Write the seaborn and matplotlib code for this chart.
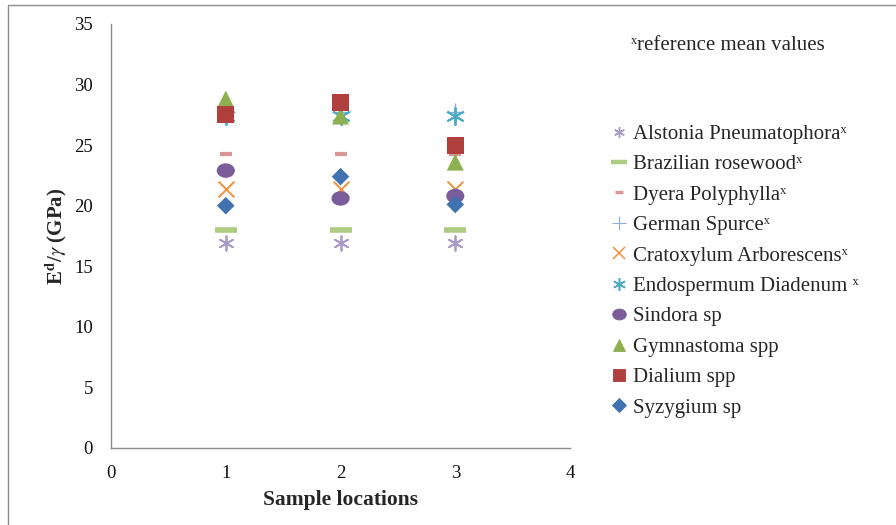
import numpy as np
import pandas as pd
import matplotlib
matplotlib.use("Agg")
import matplotlib.pyplot as plt
import seaborn as sns
from matplotlib.path import Path
from matplotlib.lines import Line2D

# sample locations
locations = [1, 2, 3]

# Ed/gamma values (GPa)
alstonia = [16.9, 16.9, 16.9]
brazilian = [18.0, 18.0, 18.0]
dyera = [24.3, 24.3, 24.3]
german = [27.7, 27.7, 27.7]
cratoxylum = [21.4, 21.4, 21.4]
endospermum = [27.4, 27.4, 27.4]
sindora = [22.9, 20.6, 20.8]
gymnastoma = [28.8, 27.4, 23.6]
dialium = [27.5, 28.5, 25.0]
syzygium = [20.0, 22.4, 20.1]

X = "\u02e3"
names = ["Alstonia Pneumatophora" + X, "Brazilian rosewood" + X, "Dyera Polyphylla" + X,
         "German Spurce" + X, "Cratoxylum Arborescens" + X, "Endospermum Diadenum " + X,
         "Sindora sp", "Gymnastoma spp", "Dialium spp", "Syzygium sp"]
values = [alstonia, brazilian, dyera, german, cratoxylum, endospermum,
          sindora, gymnastoma, dialium, syzygium]

circ = Path.unit_circle()
ellipse = Path(circ.vertices * np.array([1.25, 1.0]), circ.codes)

# (marker, colour, size, linewidth)
styles = [
    ((6, 2, 0), "#a99bc8", 110, 1.3),
    ("_", "#aecb82", 260, 4.0),
    ("_", "#d99694", 70, 3.0),
    ("+", "#8eaed6", 170, 1.0),
    ("x", "#f0913f", 130, 1.4),
    ((6, 2, 0), "#4bacc6", 150, 1.4),
    (ellipse, "#7a5c9a", 170, 0),
    ("^", "#8fb050", 150, 0),
    ("s", "#b0403d", 150, 0),
    ("D", "#3f72ae", 80, 0),
]

rows = []
for n, v in zip(names, values):
    for loc, val in zip(locations, v):
        rows.append({"species": n, "location": loc, "value": val})
df = pd.DataFrame(rows)

sns.set_style("white")
plt.rcParams["font.family"] = ["Liberation Serif", "DejaVu Sans"]
plt.rcParams["mathtext.fontset"] = "stix"

fig = plt.figure(figsize=(8.96, 5.25), dpi=100)
ax = fig.add_axes([0.1239, 0.1467, 0.5123, 0.8076])

handles = []
for n, (m, c, s, lw) in zip(names, styles):
    sub = df[df.species == n]
    sns.scatterplot(data=sub, x="location", y="value", marker=m, color=c, s=s,
                    linewidth=lw, edgecolor=c if lw > 0 else "none", ax=ax, zorder=3)
    handles.append(Line2D([], [], linestyle="none", marker=m, color=c,
                          markersize=np.sqrt(s) * 0.75, markeredgewidth=max(lw, 0.8) * 0.8))

ax.set_xlim(0, 4)
ax.set_ylim(0, 35)
ax.set_xticks([0, 1, 2, 3, 4])
ax.set_yticks(range(0, 36, 5))
ax.tick_params(axis="both", length=0, labelsize=13.5, colors="#111111")
ax.tick_params(axis="y", pad=13)
ax.tick_params(axis="x", pad=12)
for sp in ["top", "right"]:
    ax.spines[sp].set_visible(False)
for sp in ["left", "bottom"]:
    ax.spines[sp].set_color("#8c8c8c")
    ax.spines[sp].set_linewidth(1.0)

ax.set_xlabel("Sample locations", fontsize=15.5, fontweight="bold", labelpad=6)
ax.set_ylabel(r"E$^{\mathbf{d}}$/$\gamma$ (GPa)", fontsize=15, fontweight="bold", labelpad=4)

leg = ax.legend(handles, names, loc="upper left", frameon=False,
                bbox_to_anchor=(603 / 896, 1 - 116 / 525), bbox_transform=fig.transFigure,
                fontsize=15, labelspacing=0.52, handlelength=0.7, handletextpad=0.35,
                borderaxespad=0)

fig.text(631 / 896, 1 - 45 / 525, X + "reference mean values", fontsize=15,
         va="center", ha="left")

# thin grey frame around the chart area
fig.add_artist(Line2D([8 / 896, 8 / 896], [0, 1 - 5 / 525], transform=fig.transFigure,
                      color="#8c8c8c", linewidth=1.0))
fig.add_artist(Line2D([8 / 896, 1], [1 - 5 / 525, 1 - 5 / 525], transform=fig.transFigure,
                      color="#8c8c8c", linewidth=1.0))

fig.savefig("out.png", dpi=100, facecolor="white")
